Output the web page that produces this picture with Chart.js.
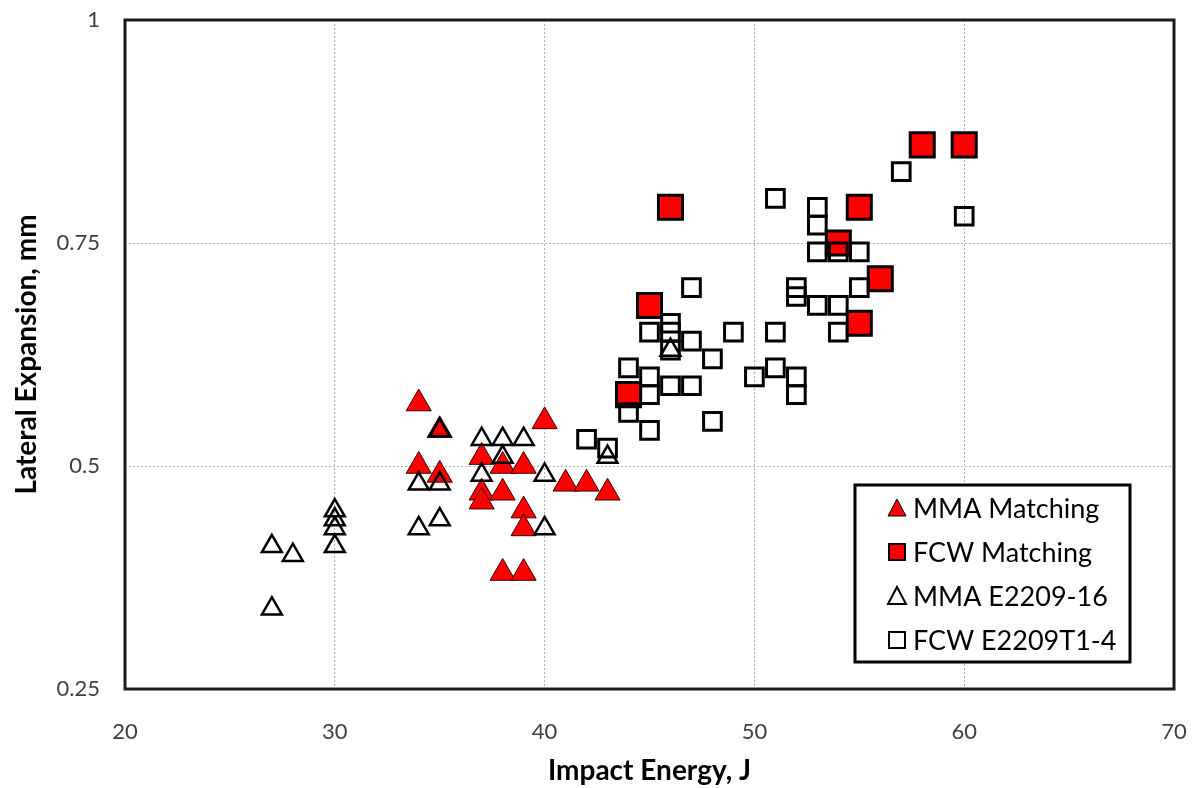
<!DOCTYPE html>
<html>
<head>
<meta charset="utf-8">
<script src="https://cdn.jsdelivr.net/npm/chart.js@4.4.0/dist/chart.umd.min.js"></script>
<style>
    html, body {
        margin: 0;
        padding: 0;
        background: #ffffff;
    }

    #wrap {
        width: 1194px;
        height: 788px;
    }
</style>
</head>
<body>
<div id="wrap"><canvas id="scatterChart"></canvas></div>

<script>
// ===============================
// DATA
// ===============================

const xTicks = [20, 30, 40, 50, 60, 70];
const xTickLabels = ["20", "30", "40", "50", "60", "70"];
const yTicks = [0.25, 0.5, 0.75, 1];
const yTickLabels = ["0.25", "0.5", "0.75", "1"];

const seriesNames = ["MMA Matching", "FCW Matching", "MMA E2209-16", "FCW E2209T1-4"];

const mmaMatchEnergy = [34, 34, 35, 35, 37, 37, 37, 38, 38, 38, 39, 39, 39, 39, 40, 41, 42, 43];
const mmaMatchExpansion = [0.57, 0.50, 0.54, 0.49, 0.51, 0.47, 0.46, 0.50, 0.47, 0.38, 0.50, 0.45, 0.43, 0.38, 0.55, 0.48, 0.48, 0.47];

const fcwMatchEnergy = [44, 45, 46, 54, 55, 55, 56, 58, 60];
const fcwMatchExpansion = [0.58, 0.68, 0.79, 0.75, 0.79, 0.66, 0.71, 0.86, 0.86];

const mmaE2209Energy = [27, 27, 28, 30, 30, 30, 30, 34, 34, 35, 35, 35, 37, 37, 38, 38, 39, 40, 40, 43, 46];
const mmaE2209Expansion = [0.41, 0.34, 0.40, 0.45, 0.44, 0.43, 0.41, 0.48, 0.43, 0.54, 0.48, 0.44, 0.53, 0.49, 0.53, 0.51, 0.53, 0.49, 0.43, 0.51, 0.63];

const fcwE2209Energy = [42, 43, 44, 44, 45, 45, 45, 45, 46, 46, 46, 46, 47, 47, 47, 48, 48, 49, 50, 51, 51, 51, 52, 52, 52, 52, 53, 53, 53, 53, 54, 54, 54, 55, 55, 57, 60];
const fcwE2209Expansion = [0.53, 0.52, 0.61, 0.56, 0.65, 0.60, 0.58, 0.54, 0.66, 0.65, 0.63, 0.59, 0.70, 0.64, 0.59, 0.62, 0.55, 0.65, 0.60, 0.80, 0.65, 0.61, 0.70, 0.69, 0.60, 0.58, 0.79, 0.77, 0.74, 0.68, 0.74, 0.68, 0.65, 0.74, 0.70, 0.83, 0.78];

function toPoints(xs, ys) {
    return xs.map(function (x, i) {
        return { x: x, y: ys[i] };
    });
}

// ===============================
// PLUGINS: frame + legend box
// ===============================

const framePlugin = {
    id: "frame",
    beforeDatasetsDraw: function (chart) {
        const a = chart.chartArea;
        const ctx = chart.ctx;
        ctx.save();
        ctx.strokeStyle = "#1a1a1a";
        ctx.lineWidth = 3;
        ctx.strokeRect(a.left, a.top, a.right - a.left, a.bottom - a.top);
        ctx.restore();
    }
};

const legendBoxPlugin = {
    id: "legendBox",
    afterDraw: function (chart) {
        const ctx = chart.ctx;
        const box = { left: 855, top: 485, width: 275, height: 177 };
        const rowsY = [508, 552, 596, 640];
        const markerX = 897;
        const textX = 913;

        ctx.save();
        ctx.fillStyle = "#ffffff";
        ctx.fillRect(box.left, box.top, box.width, box.height);
        ctx.strokeStyle = "#000000";
        ctx.lineWidth = 3;
        ctx.strokeRect(box.left, box.top, box.width, box.height);

        seriesNames.forEach(function (name, i) {
            const y = rowsY[i];
            const filled = i < 2;
            const triangle = i % 2 === 0;

            ctx.beginPath();
            if (triangle) {
                ctx.moveTo(markerX, y - 9);
                ctx.lineTo(markerX + 9, y + 8);
                ctx.lineTo(markerX - 9, y + 8);
                ctx.closePath();
            } else {
                ctx.rect(markerX - 8, y - 8, 16, 16);
            }
            if (filled) {
                ctx.fillStyle = "#ff0000";
                ctx.fill();
            }
            ctx.strokeStyle = "#000000";
            ctx.lineWidth = filled && triangle ? 1 : 2;
            ctx.stroke();

            ctx.fillStyle = "#000000";
            ctx.font = "27px Lato";
            ctx.textAlign = "left";
            ctx.textBaseline = "middle";
            ctx.fillText(name, textX, y + 1);
        });
        ctx.restore();
    }
};

// ===============================
// CHART
// ===============================

Chart.defaults.font.family = "Lato";

const gridStyle = {
    color: function (c) {
        const v = c.tick ? c.tick.value : null;
        return (v === c.scale.min || v === c.scale.max) ? "rgba(0,0,0,0)" : "#b0b0b0";
    },
    lineWidth: 1,
    drawTicks: false
};

new Chart(document.getElementById("scatterChart"), {
    type: "scatter",
    data: {
        datasets: [
            {
                label: seriesNames[0],
                data: toPoints(mmaMatchEnergy, mmaMatchExpansion),
                pointStyle: "triangle",
                pointRadius: 14.5,
                backgroundColor: "#ff0000",
                borderColor: "#3a0000",
                borderWidth: 1,
                order: 2
            },
            {
                label: seriesNames[1],
                data: toPoints(fcwMatchEnergy, fcwMatchExpansion),
                pointStyle: "rect",
                pointRadius: 17,
                backgroundColor: "#ff0000",
                borderColor: "#000000",
                borderWidth: 3,
                order: 2
            },
            {
                label: seriesNames[2],
                data: toPoints(mmaE2209Energy, mmaE2209Expansion),
                pointStyle: "triangle",
                pointRadius: 11.5,
                backgroundColor: "rgba(255,255,255,0)",
                borderColor: "#000000",
                borderWidth: 2.5,
                order: 1
            },
            {
                label: seriesNames[3],
                data: toPoints(fcwE2209Energy, fcwE2209Expansion),
                pointStyle: "rect",
                pointRadius: 12.5,
                backgroundColor: "rgba(255,255,255,0)",
                borderColor: "#000000",
                borderWidth: 3,
                order: 1
            }
        ]
    },
    options: {
        responsive: true,
        maintainAspectRatio: false,
        animation: false,
        layout: {
            padding: { top: 17, right: 14, left: 0, bottom: 0 }
        },
        plugins: {
            legend: { display: false },
            tooltip: { enabled: false }
        },
        scales: {
            x: {
                type: "linear",
                min: 20,
                max: 70,
                afterBuildTicks: function (scale) {
                    scale.ticks = xTicks.map(function (v) { return { value: v }; });
                },
                afterFit: function (scale) {
                    scale.height = 99;
                    scale.paddingLeft = 0;
                    scale.paddingRight = 0;
                },
                ticks: {
                    color: "#404040",
                    font: { size: 22 },
                    padding: 30,
                    maxRotation: 0,
                    callback: function (value) {
                        const i = xTicks.indexOf(value);
                        return i >= 0 ? xTickLabels[i] : "";
                    }
                },
                grid: gridStyle,
                border: { display: false, dash: [2, 2] },
                title: {
                    display: true,
                    text: "Impact Energy, J",
                    color: "#000000",
                    font: { size: 28, weight: "bold" },
                    padding: { top: 0, bottom: 0 }
                }
            },
            y: {
                type: "linear",
                min: 0.25,
                max: 1,
                afterBuildTicks: function (scale) {
                    scale.ticks = yTicks.map(function (v) { return { value: v }; });
                },
                afterFit: function (scale) {
                    scale.width = 125;
                    scale.paddingTop = 0;
                    scale.paddingBottom = 0;
                },
                ticks: {
                    color: "#404040",
                    font: { size: 22 },
                    padding: 25,
                    callback: function (value) {
                        const i = yTicks.indexOf(value);
                        return i >= 0 ? yTickLabels[i] : "";
                    }
                },
                grid: gridStyle,
                border: { display: false, dash: [2, 2] },
                title: {
                    display: true,
                    text: "Lateral Expansion, mm",
                    color: "#000000",
                    font: { size: 28, weight: "bold" },
                    padding: { top: 10, bottom: 0 }
                }
            }
        }
    },
    plugins: [framePlugin, legendBoxPlugin]
});
</script>
</body>
</html>
